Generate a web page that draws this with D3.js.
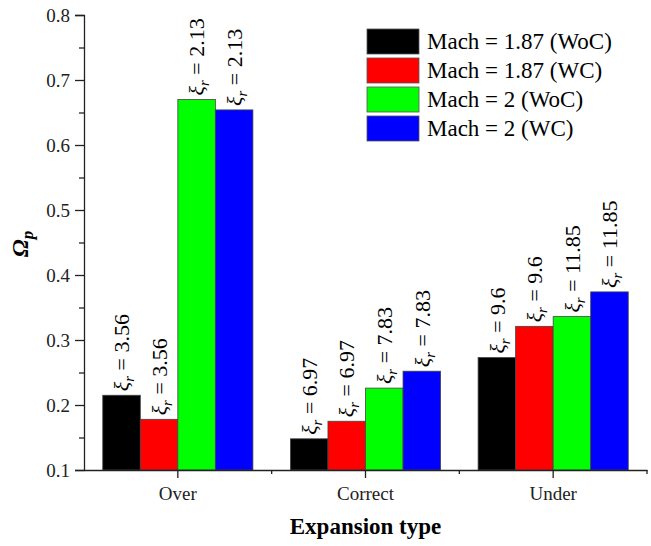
<!DOCTYPE html>
<html>
<head>
<meta charset="utf-8">
<script src="https://cdn.jsdelivr.net/npm/d3@7"></script>
<style>
  html, body { margin: 0; padding: 0; background: #fff; }
  svg text { font-family: 'Liberation Serif', serif; }
</style>
</head>
<body>
<svg id="chart" width="651" height="546"></svg>
<script>
// Expansion types on the x axis
const categories = ["Over", "Correct", "Under"];
// Series (flow case) names
const series = ["Mach = 1.87 (WoC)", "Mach = 1.87 (WC)", "Mach = 2 (WoC)", "Mach = 2 (WC)"];
const seriesColors = ["#000000", "#ff0000", "#00ff00", "#0000ff"];
// Omega_p per series, ordered as categories
const mach187WoC = [0.215, 0.148, 0.273];
const mach187WC  = [0.178, 0.175, 0.321];
const mach2WoC   = [0.670, 0.226, 0.336];
const mach2WC    = [0.654, 0.252, 0.374];
// xi_r annotation per series, ordered as categories
const xi187WoC = ["3.56", "6.97", "9.6"];
const xi187WC  = ["3.56", "6.97", "9.6"];
const xi2WoC   = ["2.13", "7.83", "11.85"];
const xi2WC    = ["2.13", "7.83", "11.85"];
// Y axis ticks
const yMajorTicks = [0.1, 0.2, 0.3, 0.4, 0.5, 0.6, 0.7, 0.8];
const yMinorTicks = [0.15, 0.25, 0.35, 0.45, 0.55, 0.65, 0.75];

const values = [mach187WoC, mach187WC, mach2WoC, mach2WC];
const xis = [xi187WoC, xi187WC, xi2WoC, xi2WC];

const FONT = "Liberation Serif, serif";
const svg = d3.select("#chart");
const plotLeft = 84, plotRight = 647, plotTop = 15, plotBottom = 470;
const axisColor = "#222";

const x0 = d3.scaleBand().domain(categories).range([plotLeft, plotRight]).padding(0);
const x1 = d3.scaleBand().domain(d3.range(series.length)).range([0, x0.bandwidth()])
  .paddingInner(0).paddingOuter(0.5);
const y = d3.scaleLinear().domain([0.1, 0.8]).range([plotBottom, plotTop]);

// Bars
const rows = [];
categories.forEach((c, ci) => {
  series.forEach((s, si) => {
    rows.push({ cat: c, si: si, v: values[si][ci], xi: xis[si][ci] });
  });
});

const g = svg.append("g");
g.selectAll("rect.bar").data(rows).join("rect")
  .attr("class", "bar")
  .attr("x", d => x0(d.cat) + x1(d.si))
  .attr("y", d => y(d.v))
  .attr("width", x1.bandwidth())
  .attr("height", d => y(0.1) - y(d.v))
  .attr("fill", d => seriesColors[d.si])
  .attr("stroke", "#444")
  .attr("stroke-width", 0.8);

// xi_r annotations, rotated above each bar
const lab = g.selectAll("text.xi").data(rows).join("text")
  .attr("class", "xi")
  .attr("transform", d => `translate(${x0(d.cat) + x1(d.si) + x1.bandwidth() / 2},${y(d.v) - 4}) rotate(-90)`)
  .attr("dy", "0.35em")
  .attr("text-anchor", "start")
  .style("font-family", FONT)
  .style("font-size", "22px")
  .attr("fill", "#000");
lab.append("tspan").attr("font-style", "italic").text("ξ");
lab.append("tspan").attr("font-style", "italic").attr("font-size", "15px").attr("dy", "5").text("r");
lab.append("tspan").attr("dy", "-5").text(d => " = " + d.xi);

// Y axis
const yAxis = svg.append("g").attr("transform", `translate(${plotLeft},0)`)
  .call(d3.axisLeft(y).tickValues(yMajorTicks).tickFormat(d3.format(".1f")).tickSize(9).tickPadding(5));
yAxis.attr("font-family", FONT);
yAxis.select(".domain").attr("stroke", axisColor).attr("stroke-width", 1.3);
yAxis.selectAll(".tick line").attr("stroke", axisColor).attr("stroke-width", 1.3);
yAxis.selectAll(".tick text").style("font-size", "19px").style("font-family", FONT).attr("fill", "#222");

const yMinor = svg.append("g").attr("transform", `translate(${plotLeft},0)`)
  .call(d3.axisLeft(y).tickValues(yMinorTicks).tickFormat("").tickSize(5));
yMinor.select(".domain").remove();
yMinor.selectAll(".tick line").attr("stroke", axisColor).attr("stroke-width", 1.3);

// X axis
const xAxis = svg.append("g").attr("transform", `translate(0,${plotBottom})`)
  .call(d3.axisBottom(x0).tickSize(8).tickSizeOuter(0));
xAxis.attr("font-family", FONT);
xAxis.select(".domain").attr("stroke", axisColor).attr("stroke-width", 1.3);
xAxis.selectAll(".tick line").attr("stroke", axisColor).attr("stroke-width", 1.3);
xAxis.selectAll(".tick text").attr("y", 30).attr("dy", 0)
  .style("font-size", "19px").style("font-family", FONT).attr("fill", "#222");

// Minor ticks at category boundaries
const bounds = categories.map(c => x0(c) + x0.bandwidth());
svg.append("g").selectAll("line").data(bounds).join("line")
  .attr("x1", d => d).attr("x2", d => d)
  .attr("y1", plotBottom).attr("y2", plotBottom + 4)
  .attr("stroke", axisColor).attr("stroke-width", 1.3);

// Axis titles
svg.append("text")
  .attr("x", (plotLeft + plotRight) / 2).attr("y", 534)
  .attr("text-anchor", "middle")
  .style("font-family", FONT)
  .style("font-size", "23px").style("font-weight", "bold")
  .text("Expansion type");

const yt = svg.append("text")
  .attr("transform", "translate(28,244) rotate(-90)")
  .attr("text-anchor", "middle")
  .style("font-family", FONT)
  .style("font-size", "24px").style("font-weight", "bold").style("font-style", "italic");
yt.append("tspan").text("Ω");
yt.append("tspan").attr("font-size", "17px").attr("dy", "5").text("p");

// Legend
const legend = svg.append("g").attr("transform", "translate(367,29)");
const li = legend.selectAll("g").data(series).join("g")
  .attr("transform", (d, i) => `translate(0,${i * 29})`);
li.append("rect").attr("width", 52).attr("height", 25)
  .attr("fill", (d, i) => seriesColors[i]).attr("stroke", "#555").attr("stroke-width", 0.8);
li.append("text").attr("x", 60).attr("y", 20)
  .style("font-family", FONT)
  .style("font-size", "23px").text(d => d);
</script>
</body>
</html>
